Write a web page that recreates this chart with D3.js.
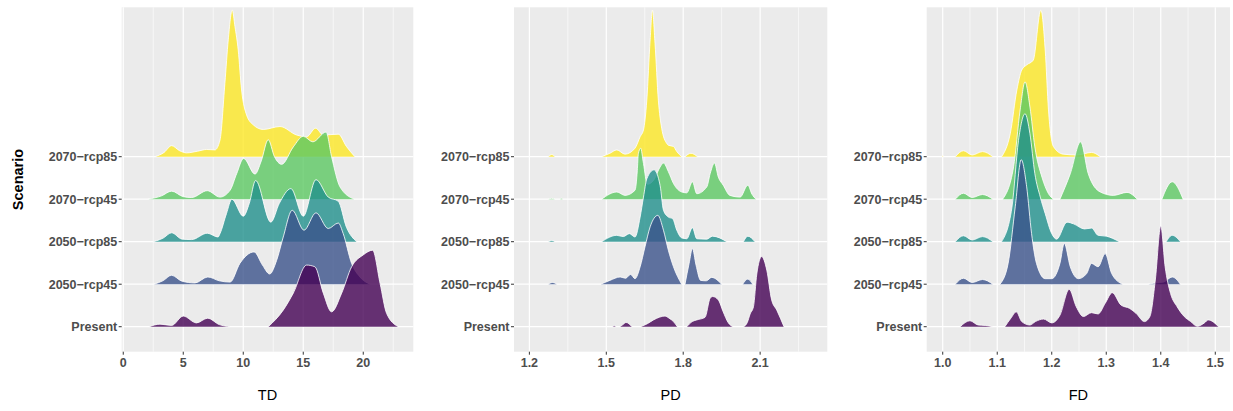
<!DOCTYPE html>
<html lang="en">
<head>
<meta charset="UTF-8">
<title>Ridgeline densities by scenario</title>
<style>
    body { margin: 0; background: #ffffff; }
    svg { display: block; font-family: "Liberation Sans", Arial, sans-serif; }
    .tick-label { font-size: 12.5px; font-weight: bold; fill: #4d4d4d; }
    .axis-title { font-size: 14.5px; fill: #000000; }
</style>
</head>
<body>
<svg id="chart" width="1233" height="411"></svg>
<script src="https://cdn.jsdelivr.net/npm/d3@7/dist/d3.min.js"></script>
<script>
// scenario order, bottom to top
const scenarios = ["Present", "2050\u2212rcp45", "2050\u2212rcp85", "2070\u2212rcp45", "2070\u2212rcp85"];
const scenarioColors = ["#440154", "#3B528B", "#21908C", "#5DC863", "#FDE725"];

const tdTicks = [0, 5, 10, 15, 20];
const pdTicks = [1.2, 1.5, 1.8, 2.1];
const fdTicks = [1.0, 1.1, 1.2, 1.3, 1.4, 1.5];

// ridge outlines: [value, scaled density], split into segments
const tdRidges = [
    [ // Present
        [[2.17, 0], [3.06, 0.06], [4.03, 0.03], [5.0, 0.25], [6.1, 0.09], [7.03, 0.2], [8.0, 0.05], [8.9, 0]],
        [[12.08, 0], [13.33, 0.39], [14.17, 0.79], [15.28, 1.45], [15.97, 1.41], [16.67, 0.79], [17.36, 0.35],
         [18.2, 0.79], [19.03, 1.41], [20.0, 1.69], [20.78, 1.8], [21.4, 1.02], [21.95, 0.31], [22.92, 0]]
    ],
    [ // 2050-rcp45
        [[2.55, 0], [3.3, 0.08], [4.03, 0.21], [4.9, 0.07], [5.97, 0.03], [7.05, 0.17], [8.0, 0.08], [8.9, 0.05],
         [9.72, 0.49], [10.9, 0.76], [11.6, 0.45], [12.2, 0.24], [12.78, 0.56], [13.33, 1.11], [14.08, 1.74],
         [15.06, 1.27], [16.06, 1.68], [17.08, 1.31], [17.92, 1.44], [18.33, 1.19], [19.03, 0.49], [19.72, 0.17], [20.56, 0]]
    ],
    [ // 2050-rcp85
        [[2.5, 0], [3.3, 0.08], [4.03, 0.21], [4.9, 0.06], [5.7, 0.05], [7.0, 0.2], [7.9, 0.11], [8.06, 0.19],
         [8.6, 0.66], [9.05, 1.0], [10.0, 0.6], [10.5, 0.9], [11.03, 1.44], [12.3, 0.46], [13.0, 0.9], [13.97, 1.25],
         [15.0, 0.6], [16.06, 1.46], [17.08, 1.05], [17.92, 0.95], [18.6, 0.34], [19.45, 0]]
    ],
    [ // 2070-rcp45
        [[2.08, 0], [3.2, 0.08], [4.03, 0.19], [5.0, 0.06], [5.7, 0.04], [7.0, 0.2], [8.06, 0.05], [8.9, 0.21],
         [9.45, 0.6], [10.03, 0.96], [10.98, 0.59], [11.5, 0.9], [12.08, 1.4], [12.6, 1.0], [13.2, 0.82],
         [14.17, 1.23], [15.0, 1.48], [15.8, 1.35], [16.9, 1.58], [17.36, 1.0], [18.06, 0.29], [19.25, 0]]
    ],
    [ // 2070-rcp85
        [[2.64, 0], [3.4, 0.1], [4.03, 0.26], [4.7, 0.14], [5.28, 0.09], [6.2, 0.13], [6.95, 0.17], [7.64, 0.16],
         [8.06, 0.39], [8.47, 1.73], [8.75, 2.75], [9.08, 3.45], [9.31, 3.06], [9.58, 2.51], [9.86, 1.57],
         [10.28, 0.98], [10.83, 0.75], [11.67, 0.64], [13.06, 0.71], [14.45, 0.51], [15.28, 0.47], [16.03, 0.67],
         [16.67, 0.51], [17.92, 0.53], [18.6, 0.24], [19.3, 0]]
    ]
];

const pdRidges = [
    [ // Present
        [[1.525, 0], [1.531, 0.02], [1.538, 0]],
        [[1.553, 0], [1.565, 0.05], [1.577, 0.1], [1.6, 0]],
        [[1.634, 0], [1.66, 0.07], [1.684, 0.16], [1.729, 0.25], [1.745, 0.2], [1.762, 0.12], [1.777, 0]],
        [[1.814, 0], [1.835, 0.12], [1.853, 0.16], [1.885, 0.22], [1.905, 0.67], [1.915, 0.71], [1.937, 0.63],
         [1.956, 0.35], [1.975, 0.1], [1.993, 0]],
        [[2.035, 0], [2.05, 0.1], [2.061, 0.3], [2.074, 0.47], [2.087, 1.24], [2.106, 1.65], [2.126, 1.33],
         [2.145, 0.63], [2.165, 0.39], [2.193, 0]]
    ],
    [ // 2050-rcp45
        [[1.274, 0], [1.29, 0.04], [1.307, 0]],
        [[1.478, 0], [1.514, 0.09], [1.554, 0.17], [1.575, 0.14], [1.595, 0.23], [1.612, 0.13], [1.632, 0.41],
         [1.651, 0.88], [1.671, 1.35], [1.701, 1.62], [1.723, 1.27], [1.742, 0.8], [1.762, 0.41], [1.794, 0]],
        [[1.807, 0], [1.823, 0.49], [1.836, 0.84], [1.85, 0.45], [1.868, 0.09], [1.89, 0.08], [1.911, 0.16], [1.95, 0]],
        [[2.032, 0], [2.052, 0.12], [2.071, 0]]
    ],
    [ // 2050-rcp85
        [[1.274, 0], [1.287, 0.03], [1.3, 0]],
        [[1.482, 0], [1.541, 0.15], [1.566, 0.12], [1.59, 0.19], [1.612, 0.11], [1.632, 0.58], [1.645, 1.05],
         [1.658, 1.48], [1.686, 1.69], [1.71, 1.32], [1.723, 0.74], [1.742, 0.58], [1.759, 0.54], [1.775, 0.27],
         [1.794, 0.09], [1.814, 0.07], [1.836, 0.33], [1.853, 0.07], [1.892, 0.06], [1.914, 0.13], [1.97, 0]],
        [[2.035, 0], [2.052, 0.13], [2.08, 0]]
    ],
    [ // 2070-rcp45
        [[1.274, 0], [1.287, 0.02], [1.3, 0]],
        [[1.32, 0], [1.325, 0.02], [1.33, 0]],
        [[1.482, 0], [1.541, 0.17], [1.573, 0.09], [1.612, 0.21], [1.621, 0.68], [1.625, 1.07], [1.634, 1.2],
         [1.645, 0.84], [1.66, 0.35], [1.685, 0.45], [1.71, 0.76], [1.723, 0.85], [1.742, 0.65], [1.762, 0.37],
         [1.794, 0.17], [1.814, 0.15], [1.836, 0.41], [1.853, 0.13], [1.892, 0.29], [1.905, 0.6], [1.922, 0.85],
         [1.937, 0.52], [1.956, 0.33], [1.982, 0.09], [2.022, 0.05], [2.052, 0.33], [2.068, 0.12], [2.084, 0]]
    ],
    [ // 2070-rcp85
        [[1.274, 0], [1.287, 0.05], [1.3, 0]],
        [[1.482, 0], [1.514, 0.08], [1.541, 0.16], [1.573, 0.06], [1.612, 0.2], [1.632, 0.47], [1.645, 0.63],
         [1.658, 1.33], [1.671, 2.75], [1.68, 3.45], [1.69, 2.67], [1.703, 1.33], [1.716, 0.67], [1.736, 0.31],
         [1.742, 0.27], [1.762, 0.24], [1.775, 0.12], [1.794, 0]],
        [[1.807, 0], [1.83, 0.08], [1.856, 0]]
    ]
];

const fdRidges = [
    [ // Present
        [[1.032, 0], [1.05, 0.14], [1.065, 0.04], [1.078, 0.03], [1.092, 0]],
        [[1.114, 0], [1.125, 0.2], [1.135, 0.35], [1.145, 0.12], [1.16, 0.04], [1.17, 0.12], [1.185, 0.18],
         [1.2, 0.09], [1.215, 0.27], [1.232, 0.88], [1.245, 0.47], [1.258, 0.24], [1.273, 0.33], [1.285, 0.3],
         [1.298, 0.55], [1.311, 0.8], [1.327, 0.51], [1.343, 0.43], [1.355, 0.31], [1.37, 0.12], [1.38, 0.24],
         [1.39, 1.1], [1.4, 2.37], [1.408, 1.41], [1.418, 0.78], [1.43, 0.47], [1.443, 0.24], [1.455, 0.12],
         [1.467, 0.01], [1.48, 0.09], [1.487, 0.16], [1.506, 0]]
    ],
    [ // 2050-rcp45
        [[1.023, 0], [1.038, 0.14], [1.054, 0.04], [1.073, 0.11], [1.092, 0]],
        [[1.105, 0], [1.12, 0.49], [1.133, 1.82], [1.144, 2.93], [1.154, 2.29], [1.163, 1.19], [1.172, 0.49],
         [1.188, 0.13], [1.2, 0.13], [1.215, 0.49], [1.223, 0.96], [1.234, 0.41], [1.249, 0.13], [1.264, 0.25],
         [1.273, 0.49], [1.285, 0.41], [1.298, 0.72], [1.31, 0.25], [1.33, 0]],
        [[1.377, 0], [1.39, 0.03], [1.405, 0.05], [1.421, 0.17], [1.436, 0]]
    ],
    [ // 2050-rcp85
        [[1.023, 0], [1.038, 0.14], [1.054, 0.04], [1.073, 0.12], [1.092, 0]],
        [[1.108, 0], [1.127, 0.81], [1.139, 2.38], [1.151, 3.01], [1.16, 2.54], [1.169, 1.6], [1.179, 1.05],
         [1.188, 0.66], [1.2, 0.19], [1.209, 0.06], [1.228, 0.46], [1.24, 0.42], [1.26, 0.3], [1.273, 0.32],
         [1.285, 0.15], [1.3, 0.13], [1.324, 0]],
        [[1.41, 0], [1.421, 0.15], [1.436, 0]]
    ],
    [ // 2070-rcp45
        [[1.023, 0], [1.038, 0.14], [1.054, 0.04], [1.073, 0.11], [1.092, 0]],
        [[1.11, 0], [1.13, 0.76], [1.142, 2.1], [1.151, 2.76], [1.16, 2.17], [1.169, 1.23], [1.182, 0.52],
         [1.194, 0.13], [1.203, 0]],
        [[1.215, 0], [1.234, 0.6], [1.253, 1.35], [1.267, 0.6], [1.289, 0.17], [1.313, 0.09], [1.338, 0.16], [1.357, 0]],
        [[1.402, 0], [1.421, 0.41], [1.441, 0]]
    ],
    [ // 2070-rcp85
        [[0.999, 0], [1.0, 0.03], [1.001, 0]],
        [[1.023, 0], [1.038, 0.14], [1.054, 0.04], [1.073, 0.12], [1.092, 0]],
        [[1.108, 0], [1.124, 0.55], [1.136, 1.57], [1.145, 2.04], [1.154, 2.16], [1.166, 2.27], [1.18, 3.45],
         [1.188, 2.51], [1.194, 1.1], [1.203, 0.24], [1.221, 0.06], [1.246, 0.04], [1.273, 0.1], [1.289, 0]]
    ]
];

const panels = [
    { title: "TD", ridges: tdRidges, ticks: tdTicks, domain: [-0.13, 24.17], left: 121.7, right: 413.3, fmt: d3.format("d"), showY: true },
    { title: "PD", ridges: pdRidges, ticks: pdTicks, domain: [1.14, 2.362], left: 514, right: 827.3, fmt: d3.format(".1f"), showY: false },
    { title: "FD", ridges: fdRidges, ticks: fdTicks, domain: [0.9706, 1.527], left: 926.7, right: 1230, fmt: d3.format(".1f"), showY: false }
];

const plotTop = 7.3, plotBottom = 351.7;
const svg = d3.select("#chart");

// rows are 1..5, density heights stack on top of the row value
const y = d3.scaleLinear().domain([0.412, 8.515]).range([plotBottom, plotTop]);

panels.forEach(p => {
    const x = d3.scaleLinear().domain(p.domain).range([p.left, p.right]);
    const g = svg.append("g");

    g.append("rect")
        .attr("x", p.left).attr("y", plotTop)
        .attr("width", p.right - p.left).attr("height", plotBottom - plotTop)
        .attr("fill", "#ebebeb");

    // minor grid at half steps
    const step = p.ticks[1] - p.ticks[0];
    const minor = [p.ticks[0] - step / 2].concat(p.ticks.map(t => t + step / 2))
        .filter(v => v > p.domain[0] && v < p.domain[1]);
    g.selectAll(".minor").data(minor).enter().append("line")
        .attr("x1", d => x(d)).attr("x2", d => x(d))
        .attr("y1", plotTop).attr("y2", plotBottom)
        .attr("stroke", "#ffffff").attr("stroke-width", 0.6);

    g.selectAll(".major-x").data(p.ticks).enter().append("line")
        .attr("x1", d => x(d)).attr("x2", d => x(d))
        .attr("y1", plotTop).attr("y2", plotBottom)
        .attr("stroke", "#ffffff").attr("stroke-width", 1.2);

    g.selectAll(".major-y").data(scenarios).enter().append("line")
        .attr("x1", p.left).attr("x2", p.right)
        .attr("y1", (d, i) => y(i + 1)).attr("y2", (d, i) => y(i + 1))
        .attr("stroke", "#ffffff").attr("stroke-width", 1.2);

    // ridges: top row first so lower rows overlap it
    for (let i = scenarios.length - 1; i >= 0; i--) {
        const area = d3.area()
            .x(d => x(d[0]))
            .y0(y(i + 1))
            .y1(d => y(i + 1 + d[1]))
            .curve(d3.curveMonotoneX);
        const line = d3.line()
            .x(d => x(d[0]))
            .y(d => y(i + 1 + d[1]))
            .curve(d3.curveMonotoneX);
        p.ridges[i].forEach(seg => {
            g.append("path").attr("d", area(seg))
                .attr("fill", scenarioColors[i]).attr("fill-opacity", 0.8);
            g.append("path").attr("d", line(seg))
                .attr("fill", "none").attr("stroke", "#ffffff")
                .attr("stroke-width", 0.9).attr("stroke-opacity", 0.9);
        });
    }

    // y ticks and labels
    g.selectAll(".ytick").data(scenarios).enter().append("line")
        .attr("x1", p.left - 3).attr("x2", p.left)
        .attr("y1", (d, i) => y(i + 1)).attr("y2", (d, i) => y(i + 1))
        .attr("stroke", "#333333").attr("stroke-width", 1);
    g.selectAll(".ylab").data(scenarios).enter().append("text")
        .attr("class", "tick-label")
        .attr("x", p.left - 4.5)
        .attr("y", (d, i) => y(i + 1))
        .attr("dy", "0.36em")
        .attr("text-anchor", "end")
        .text(d => d);

    // x ticks and labels
    g.selectAll(".xtick").data(p.ticks).enter().append("line")
        .attr("x1", d => x(d)).attr("x2", d => x(d))
        .attr("y1", plotBottom).attr("y2", plotBottom + 3)
        .attr("stroke", "#333333").attr("stroke-width", 1);
    g.selectAll(".xlab").data(p.ticks).enter().append("text")
        .attr("class", "tick-label")
        .attr("x", d => x(d)).attr("y", 367)
        .attr("text-anchor", "middle")
        .text(d => p.fmt(d));

    g.append("text")
        .attr("class", "axis-title")
        .attr("x", (p.left + p.right) / 2).attr("y", 400)
        .attr("text-anchor", "middle")
        .text(p.title);

    if (p.showY) {
        g.append("text")
            .attr("class", "axis-title")
            .attr("font-weight", "bold")
            .attr("transform", `translate(22.5,${(plotTop + plotBottom) / 2}) rotate(-90)`)
            .attr("text-anchor", "middle")
            .text("Scenario");
    }
});
</script>
</body>
</html>
